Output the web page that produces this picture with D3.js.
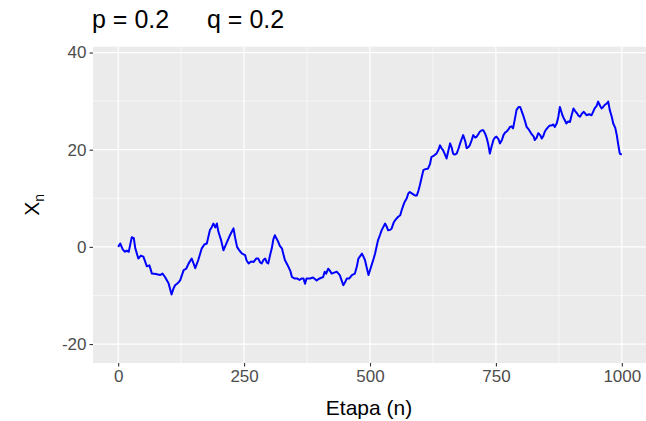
<!DOCTYPE html>
<html>
<head>
<meta charset="utf-8">
<script src="https://cdn.jsdelivr.net/npm/d3@7"></script>
<style>
  html, body { margin: 0; padding: 0; background: #ffffff; }
  svg { display: block; font-family: "Liberation Sans", Arial, sans-serif; }
</style>
</head>
<body>
<svg id="chart" width="646" height="421"></svg>
<script>
// ---- data ----
const titleParts = ["p = 0.2", "q = 0.2"];
const xTickValues = [0, 250, 500, 750, 1000];
const yTickValues = [-20, 0, 20, 40];
const xMinorValues = [125, 375, 625, 875];
const yMinorValues = [-10, 10, 30];

const steps = [0,4,9,13,17,21,27,31,34,40,45,50,57,62,67,75,83,88,93,100,106,110,113,118,123,130,135,140,146,150,153,159,166,171,176,182,186,189,193,196,199,204,209,216,222,226,229,232,236,241,246,252,255,259,264,269,274,278,282,285,289,292,295,298,302,305,308,311,314,318,321,325,331,338,342,345,350,355,360,365,368,371,374,381,387,394,400,407,410,413,417,421,424,429,434,440,444,447,451,454,459,464,470,474,477,484,487,490,494,497,500,503,507,510,516,520,523,530,533,536,540,543,547,550,556,560,563,566,569,573,576,579,583,589,593,596,599,603,606,610,615,619,622,627,632,636,639,642,645,649,652,656,659,662,665,668,672,676,679,682,685,689,692,695,698,702,705,709,712,715,718,722,725,729,732,735,738,741,745,748,751,755,758,762,765,768,771,775,778,781,784,788,791,795,798,801,805,808,811,815,818,821,825,827,831,834,838,841,844,847,850,854,857,861,864,867,871,874,877,880,882,886,890,893,897,900,904,907,911,914,917,920,924,927,930,935,940,943,946,950,953,957,960,963,966,970,973,976,980,983,987,990,993,996,1000];
const values = [0,0.7,-0.5,-1,-0.8,-1,2,1.8,-0.3,-2.4,-1.8,-2,-4,-3.8,-5.5,-5.6,-5.8,-5.5,-6.2,-7.5,-9.8,-8.5,-7.9,-7.5,-6.9,-4.8,-4.5,-3.4,-2.4,-3.5,-4.4,-2.7,-0.3,0.5,0.7,3.4,4.1,4.8,4,4.8,3.1,1.5,-0.7,1,2.4,3.2,3.8,2,0,-0.8,-1.4,-1.7,-2.8,-3.4,-3,-3.1,-2.4,-2.4,-3.2,-3.4,-2.6,-2.4,-3.2,-3.4,-1.5,-0.3,1.5,2.4,1.8,1,0.2,-0.3,-2.7,-4.1,-5,-6.2,-6.5,-6.5,-6.8,-6.5,-6.5,-7.6,-6.5,-6.5,-6.3,-6.9,-6.5,-6.2,-5.1,-5.5,-4.5,-5,-5.5,-5.3,-5.1,-5.8,-7,-7.9,-7.2,-6.5,-6.5,-5.8,-5.5,-4,-2.4,-1.4,-2,-2.7,-4.5,-5.8,-4.8,-3.8,-2.5,-1.4,1.4,2.5,3.4,4.8,4.2,3.4,3.5,3.8,5,5.5,6.2,6.5,7.6,8.5,9.3,10,11,11.3,11,10.6,10.6,11.5,12.7,14.5,15.8,16,16.1,17,18.5,18.8,19.2,20,20.9,20.3,19.9,19,18.2,20,21.3,20.5,19.2,19,19.2,20.3,21.3,22.2,23,21.8,20.3,20.5,20.9,22,23,22.5,22.7,23.2,23.7,24,24,23.2,22.3,21,19.2,20.5,22,22.5,22.7,22.2,21.3,22,23,23.5,23.7,24.2,24.7,24.8,24.4,26.5,28.2,28.8,28.8,28,26.8,25.8,24.7,24.2,23.7,23.2,22.7,22,22.5,23.4,23,22.3,22.8,23.7,24.2,24.7,25,25,25.2,24.7,25.5,26.8,28.8,27.8,27.1,26.2,25.4,25.8,25.7,27,28.5,28,27.5,27,26.8,27.3,27.8,27.5,27.1,27.3,27.1,27.8,28.5,29,29.9,29,28.5,28.8,29.2,29.5,29.9,28.2,26.8,25.4,24.5,23,21,19.2,19];

// ---- layout ----
const panel = { left: 93, right: 647, top: 46.7, bottom: 363 };
const svg = d3.select("#chart");

const x = d3.scaleLinear().domain([-50, 1050]).range([panel.left, panel.right]);
const y = d3.scaleLinear().domain([-23.9, 41.2]).range([panel.bottom, panel.top]);

// panel background
svg.append("rect")
  .attr("x", panel.left).attr("y", panel.top)
  .attr("width", panel.right - panel.left).attr("height", panel.bottom - panel.top)
  .attr("fill", "#EBEBEB");

const grid = svg.append("g");
grid.selectAll("line.xminor").data(xMinorValues).enter().append("line")
  .attr("x1", d => x(d)).attr("x2", d => x(d))
  .attr("y1", panel.top).attr("y2", panel.bottom)
  .attr("stroke", "#ffffff").attr("stroke-width", 0.6);
grid.selectAll("line.yminor").data(yMinorValues).enter().append("line")
  .attr("y1", d => y(d)).attr("y2", d => y(d))
  .attr("x1", panel.left).attr("x2", panel.right)
  .attr("stroke", "#ffffff").attr("stroke-width", 0.6);
grid.selectAll("line.xmajor").data(xTickValues).enter().append("line")
  .attr("x1", d => x(d)).attr("x2", d => x(d))
  .attr("y1", panel.top).attr("y2", panel.bottom)
  .attr("stroke", "#ffffff").attr("stroke-width", 1.2);
grid.selectAll("line.ymajor").data(yTickValues).enter().append("line")
  .attr("y1", d => y(d)).attr("y2", d => y(d))
  .attr("x1", panel.left).attr("x2", panel.right)
  .attr("stroke", "#ffffff").attr("stroke-width", 1.2);

// line
const pts = steps.map((s, i) => [s, values[i]]);
const line = d3.line().x(d => x(d[0])).y(d => y(d[1]));
svg.append("path")
  .datum(pts)
  .attr("d", line)
  .attr("fill", "none")
  .attr("stroke", "#0000FF")
  .attr("stroke-width", 2)
  .attr("stroke-linejoin", "round");

// axes
const fmt = d => String(d);
const xAxis = d3.axisBottom(x).tickValues(xTickValues).tickFormat(fmt).tickSize(3.5).tickPadding(3);
const gx = svg.append("g").attr("transform", `translate(0,${panel.bottom})`).call(xAxis);
gx.select(".domain").remove();
gx.selectAll(".tick line").attr("stroke", "#333333").attr("stroke-width", 1.1);
gx.selectAll(".tick text").attr("fill", "#4D4D4D").attr("font-size", "17px")
  .attr("font-family", "Liberation Sans, Arial, sans-serif");

const yAxis = d3.axisLeft(y).tickValues(yTickValues).tickFormat(fmt).tickSize(3.5).tickPadding(3);
const gy = svg.append("g").attr("transform", `translate(${panel.left},0)`).call(yAxis);
gy.select(".domain").remove();
gy.selectAll(".tick line").attr("stroke", "#333333").attr("stroke-width", 1.1);
gy.selectAll(".tick text").attr("fill", "#4D4D4D").attr("font-size", "17px")
  .attr("font-family", "Liberation Sans, Arial, sans-serif");

// axis titles
svg.append("text")
  .attr("x", (panel.left + panel.right) / 2 - 1)
  .attr("y", 415)
  .attr("text-anchor", "middle")
  .attr("font-size", "21px")
  .attr("fill", "#000")
  .text("Etapa (n)");

const yt = svg.append("text")
  .attr("transform", `translate(39,${(panel.top + panel.bottom) / 2}) rotate(-90)`)
  .attr("text-anchor", "middle")
  .attr("font-size", "21px")
  .attr("fill", "#000");
yt.append("tspan").text("X");
yt.append("tspan").attr("font-size", "14px").attr("dy", "5").text("n");

// title
const tt = svg.append("text")
  .attr("y", 28)
  .attr("font-size", "25px")
  .attr("fill", "#000");
tt.append("tspan").attr("x", 92).text(titleParts[0]);
tt.append("tspan").attr("x", 207).text(titleParts[1]);
</script>
</body>
</html>
